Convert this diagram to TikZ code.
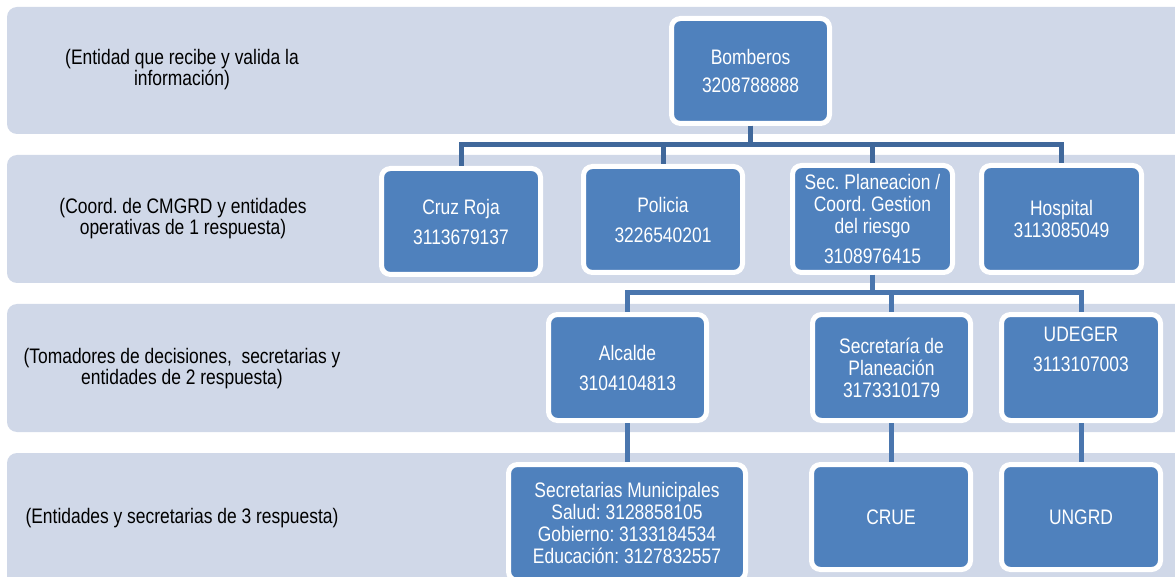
\documentclass[tikz,border=0pt]{standalone}
\usepackage{fontspec}
\setmainfont[FakeStretch=0.83]{Liberation Sans}
\frenchspacing
\definecolor{bandc}{HTML}{D0D8E8}
\definecolor{nodeblue}{HTML}{4F81BD}
\definecolor{connA}{HTML}{40689B}
\definecolor{connB}{HTML}{4A76AE}
\begin{document}
\begin{tikzpicture}[x=1pt,y=-1pt,
  bandfill/.style={fill=bandc, rounded corners=10pt},
  box/.style={draw=white, line width=5pt, fill=nodeblue, rounded corners=9pt,
    text=white, align=center, inner sep=0pt,
    font=\frenchspacing\fontsize{21}{22}\selectfont},
  lvltwo/.style={box, minimum width=159, minimum height=106},
  lvlthree/.style={box, minimum width=158, minimum height=106},
  lab/.style={align=center, text=black, inner sep=0pt,
    font=\frenchspacing\fontsize{21}{21}\selectfont},
  connone/.style={draw=connA, line width=5pt},
  conntwo/.style={draw=connB, line width=5pt}]
\useasboundingbox (0,0) rectangle (1175,577);
\clip (0,0) rectangle (1175,577);
\fill[white] (0,0) rectangle (1175,577);
% bands
\fill[bandfill] (7,7) rectangle (1200,134);
\fill[bandfill] (7,155) rectangle (1200,283);
\fill[bandfill] (7,304) rectangle (1200,432);
\fill[bandfill] (7,453) rectangle (1200,610);
% level labels
\node[lab] (l1) at (182,70) {(Entidad que recibe y valida la\\información)};
\node[lab] (l2) at (183,219) {(Coord. de CMGRD y entidades\\operativas de 1 respuesta)};
\node[lab] (l3) at (182,368.5) {(Tomadores de decisiones,\ \ secretarias y\\entidades de 2 respuesta)};
\node[lab] (l4) at (182,518) {(Entidades y secretarias de 3 respuesta)};
% nodes
\node[box, minimum width=158, minimum height=105] (bomb) at (750.5,71) {Bomberos\\[6pt]3208788888};
\node[lvltwo] (cruz) at (461,221.5) {Cruz Roja\\[8pt]3113679137};
\node[lvltwo] (poli) at (663,219.5) {Policia\\[8pt]3226540201};
\node[box, minimum width=160, minimum height=107] (secp) at (872.5,219) {Sec. Planeacion /\\Coord. Gestion\\del riesgo\\[8pt]3108976415};
\node[box, minimum width=160, minimum height=107] (hosp) at (1061.5,219) {Hospital\\3113085049};
\node[lvlthree] (alc) at (627.5,367.5) {Alcalde\\[8pt]3104104813};
\node[lvlthree] (secr) at (891.5,367.5) {Secretaría de\\Planeación\\3173310179};
\node[box, minimum width=159, minimum height=106] (udeg) at (1081,367.5) {UDEGER\\[8pt]3113107003\\[8pt]\strut};
\node[box, minimum width=237, minimum height=116] (muni) at (627,522.5) {Secretarias Municipales\\Salud: 3128858105\\Gobierno: 3133184534\\Educación: 3127832557};
\node[box, minimum width=159, minimum height=105] (crue) at (891,517) {CRUE};
\node[box, minimum width=159, minimum height=105] (ungrd) at (1081,517) {UNGRD};
% connectors
\draw[connone] (bomb.south) -- ++(0,19) -| (cruz.north);
\draw[connone] (bomb.south) -- ++(0,19) -| (poli.north);
\draw[connone] (bomb.south) -- ++(0,19) -| (secp.north);
\draw[connone] (bomb.south) -- ++(0,19) -| (hosp.north);
\draw[conntwo] (secp.south) -- ++(0,18) -| (alc.north);
\draw[conntwo] (secp.south) -- ++(0,18) -| (secr.north);
\draw[conntwo] (secp.south) -- ++(0,18) -| (udeg.north);
\draw[conntwo] (alc.south) -- (alc.south |- muni.north);
\draw[conntwo] (secr.south) -- (secr.south |- crue.north);
\draw[conntwo] (udeg.south) -- (udeg.south |- ungrd.north);
\end{tikzpicture}
\end{document}
